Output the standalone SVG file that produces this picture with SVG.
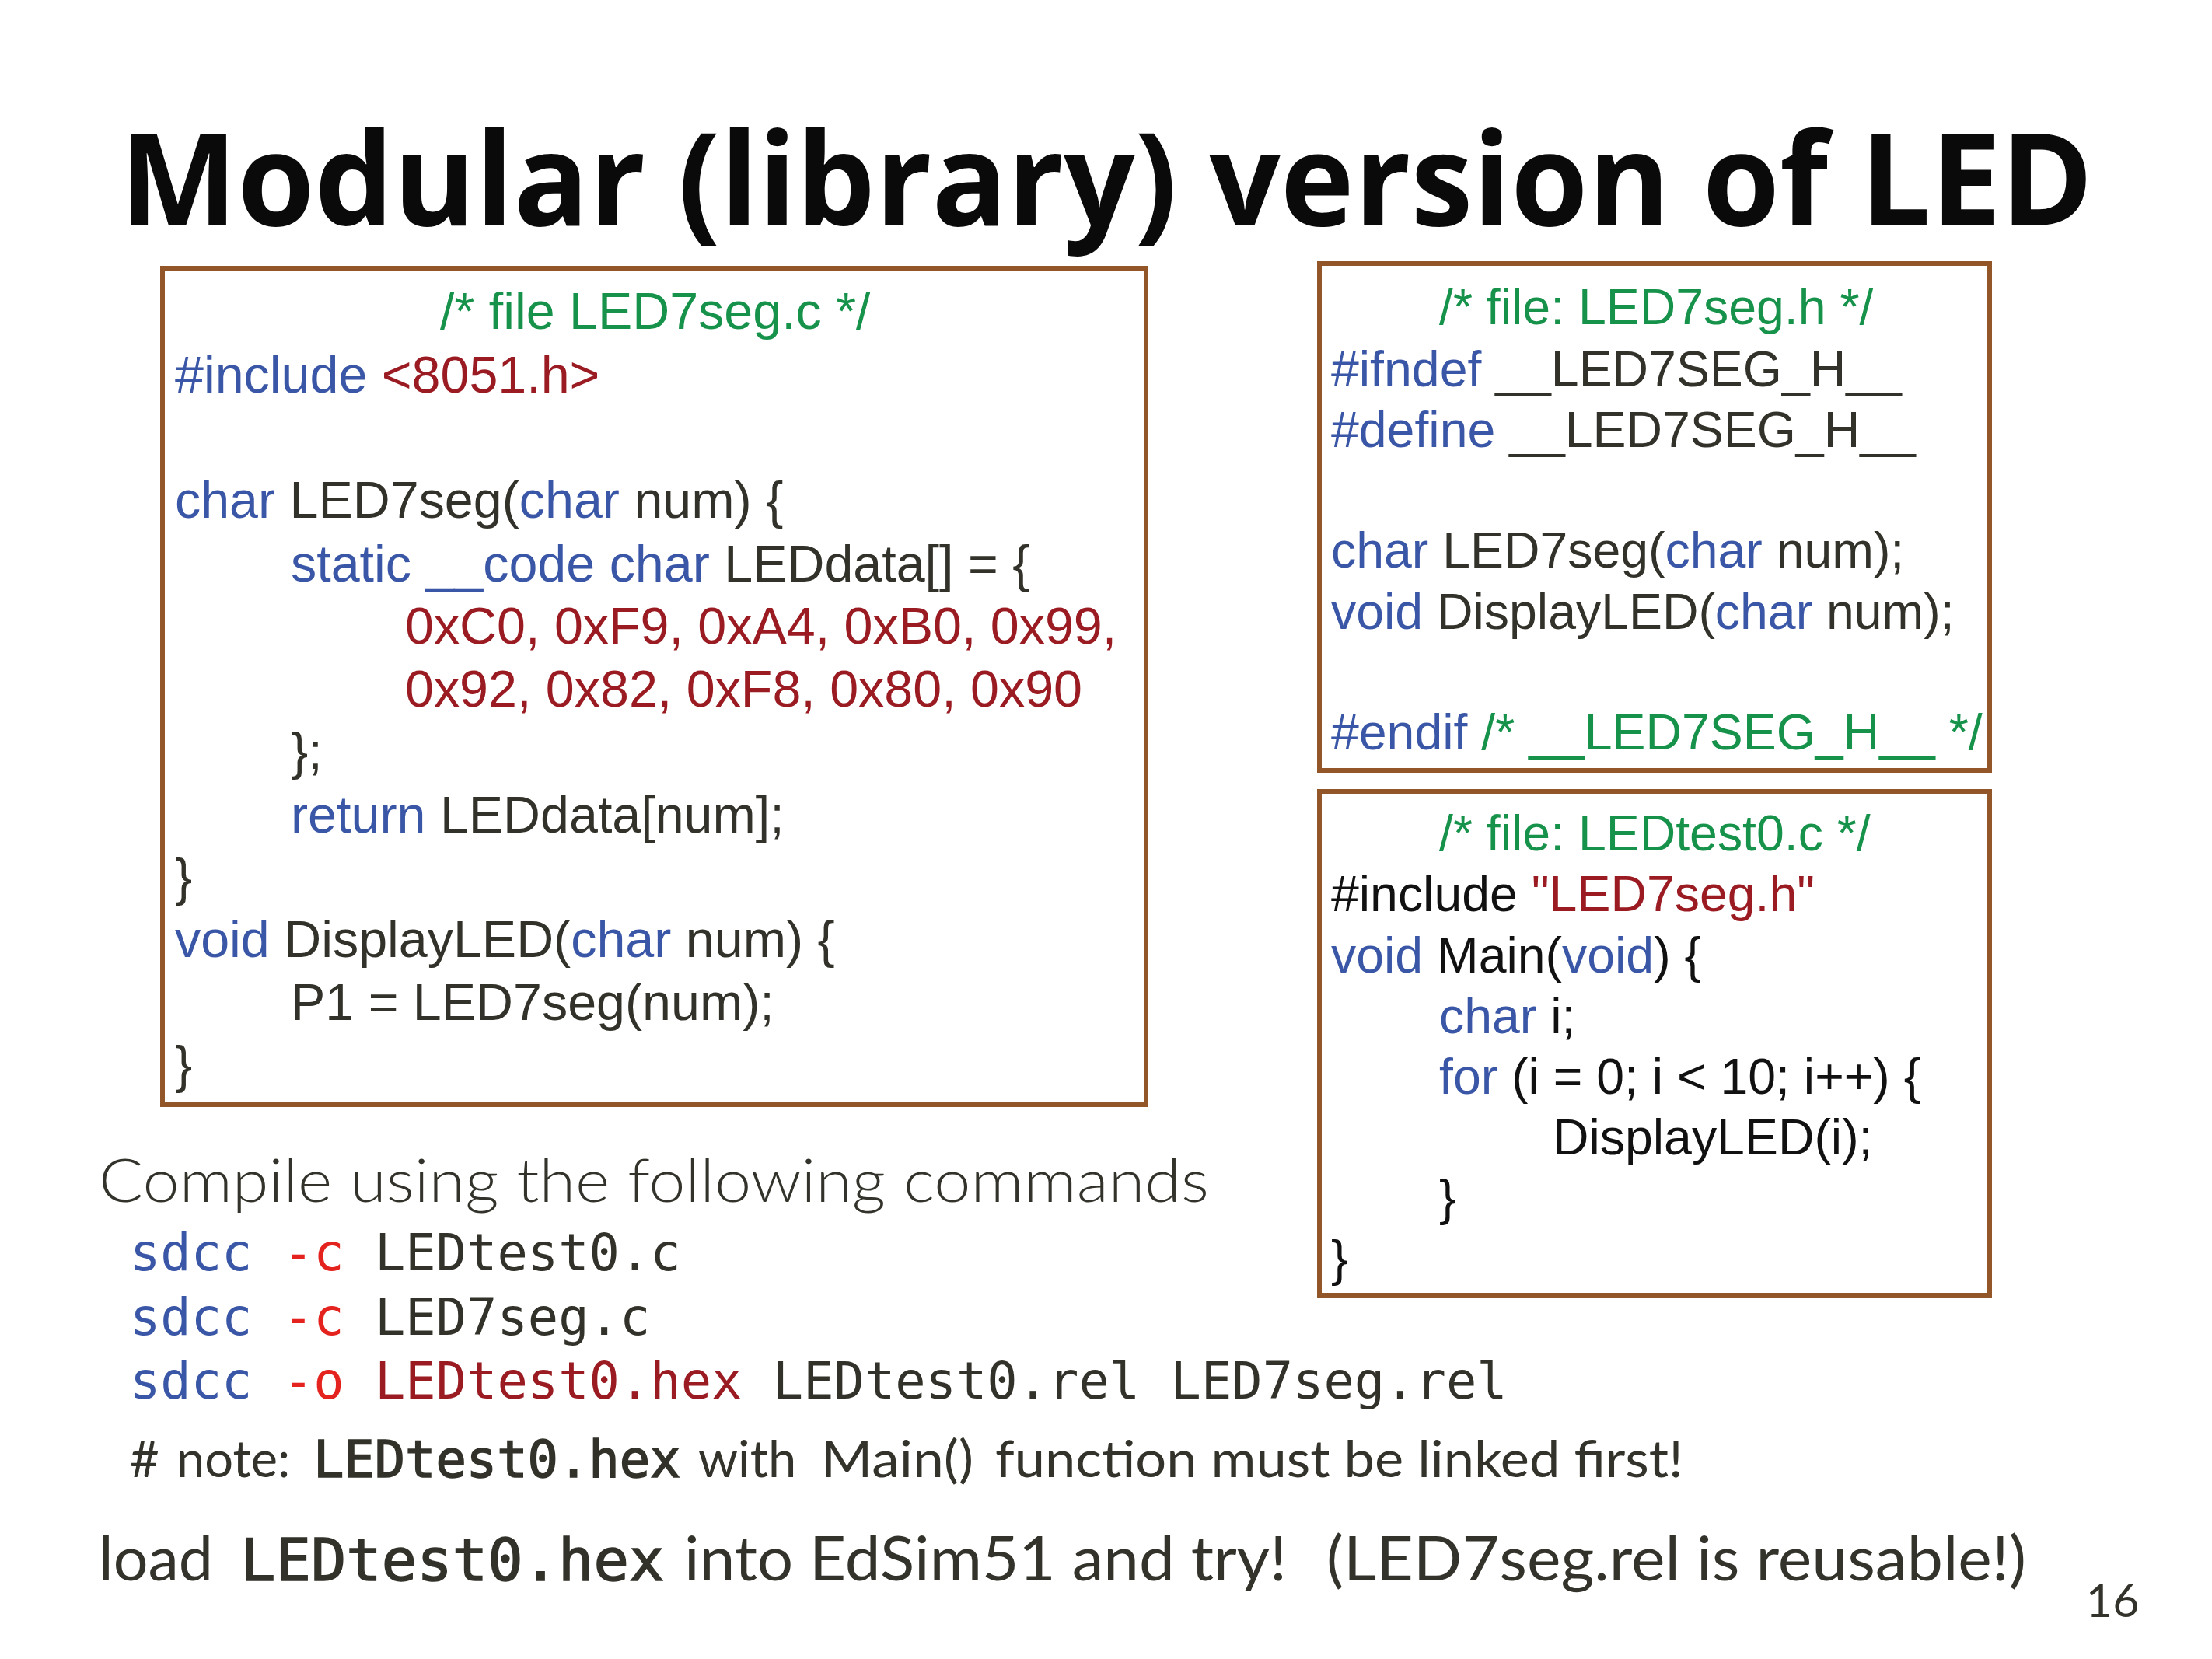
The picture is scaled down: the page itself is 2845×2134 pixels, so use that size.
<svg xmlns="http://www.w3.org/2000/svg" width="2845" height="2134" viewBox="0 0 2845 2134">
<style>
.box{fill:#ffffff;stroke:#935628;stroke-width:6}
.code{font-family:"Liberation Sans",Arial,sans-serif;font-size:66.4px;fill:#33322a}
.code2{font-family:"Liberation Sans",Arial,sans-serif;font-size:64.4px;fill:#33322a}
.blk{fill:#111111}
.kw{fill:#3a56a6}
.str{fill:#9a1b22}
.cm{fill:#16924b}
.mono{font-family:"DejaVu Sans Mono","Liberation Mono",monospace;fill:#33322a}
.semi{stroke:#33322a;stroke-width:1.6}
.flag{fill:#e4231f}
.hum{font-family:Lato,"Open Sans",sans-serif;fill:#33332b}
.title{font-family:"Open Sans","Liberation Sans",sans-serif;font-weight:700;font-size:165px;fill:#0a0a0a}
</style>
<rect width="2845" height="2134" fill="#ffffff"/>
<g id="title">
<text class="title" x="154" y="290" textLength="2538" lengthAdjust="spacingAndGlyphs">Modular (library) version of LED</text>
</g>
<g id="box-led7seg-c">
<rect class="box" x="209" y="345" width="1265" height="1076"/>
<text class="code cm" x="566" y="423">/* file LED7seg.c */</text>
<text class="code" x="225" y="505"><tspan class="kw">#include</tspan> <tspan class="str">&lt;8051.h&gt;</tspan></text>
<text class="code" x="225" y="666"><tspan class="kw">char</tspan> LED7seg(<tspan class="kw">char</tspan> num) {</text>
<text class="code" x="374" y="748"><tspan class="kw">static __code char</tspan> LEDdata[] = {</text>
<text class="code str" x="521" y="828">0xC0, 0xF9, 0xA4, 0xB0, 0x99,</text>
<text class="code str" x="521" y="909">0x92, 0x82, 0xF8, 0x80, 0x90</text>
<text class="code" x="374" y="989">};</text>
<text class="code" x="374" y="1071"><tspan class="kw">return</tspan> LEDdata[num];</text>
<text class="code" x="225" y="1151">}</text>
<text class="code" x="225" y="1231"><tspan class="kw">void</tspan> DisplayLED(<tspan class="kw">char</tspan> num) {</text>
<text class="code" x="374" y="1312">P1 = LED7seg(num);</text>
<text class="code" x="225" y="1392">}</text>
</g>
<g id="box-led7seg-h">
<rect class="box" x="1697" y="339" width="862" height="652"/>
<text class="code2 cm" x="1851" y="417">/* file: LED7seg.h */</text>
<text class="code2" x="1712" y="497"><tspan class="kw">#ifndef</tspan> __LED7SEG_H__</text>
<text class="code2" x="1712" y="575"><tspan class="kw">#define</tspan> __LED7SEG_H__</text>
<text class="code2" x="1712" y="730"><tspan class="kw">char</tspan> LED7seg(<tspan class="kw">char</tspan> num);</text>
<text class="code2" x="1712" y="809"><tspan class="kw">void</tspan> DisplayLED(<tspan class="kw">char</tspan> num);</text>
<text class="code2 cm" x="1712" y="964"><tspan class="kw">#endif</tspan> /* __LED7SEG_H__ */</text>
</g>
<g id="box-ledtest0-c">
<rect class="box" x="1697" y="1018" width="862" height="648"/>
<text class="code2 cm" x="1851" y="1094">/* file: LEDtest0.c */</text>
<text class="code2 blk" x="1712" y="1172">#include <tspan class="str">"LED7seg.h"</tspan></text>
<text class="code2 blk" x="1712" y="1251"><tspan class="kw">void</tspan> Main(<tspan class="kw">void</tspan>) {</text>
<text class="code2 blk" x="1851" y="1329"><tspan class="kw">char</tspan> i;</text>
<text class="code2 blk" x="1851" y="1407"><tspan class="kw">for</tspan> (i = 0; i &lt; 10; i++) {</text>
<text class="code2 blk" x="1997" y="1485">DisplayLED(i);</text>
<text class="code2 blk" x="1851" y="1563">}</text>
<text class="code2 blk" x="1712" y="1641">}</text>
</g>
<g id="compile-notes">
<text class="hum" x="127" y="1546" style="font-size:77px;font-weight:300" textLength="1428" lengthAdjust="spacingAndGlyphs">Compile using the following commands</text>
<text class="mono" x="167" y="1634" style="font-size:65.4px"><tspan class="kw">sdcc</tspan> <tspan class="flag">-c</tspan> LEDtest0.c</text>
<text class="mono" x="167" y="1717" style="font-size:65.4px"><tspan class="kw">sdcc</tspan> <tspan class="flag">-c</tspan> LED7seg.c</text>
<text class="mono" x="167" y="1799" style="font-size:65.4px"><tspan class="kw">sdcc</tspan> <tspan class="flag">-o</tspan> <tspan class="str">LEDtest0.hex</tspan> LEDtest0.rel LED7seg.rel</text>
<text class="hum" x="167" y="1900" style="font-size:65px">#</text>
<text class="hum" x="227" y="1900" style="font-size:65px">note:</text>
<text class="mono semi" x="403" y="1900" style="font-size:65.4px">LEDtest0.hex</text>
<text class="hum" x="898" y="1900" style="font-size:65px">with</text>
<text class="hum" x="1056" y="1900" style="font-size:65px" textLength="196" lengthAdjust="spacingAndGlyphs">Main()</text>
<text class="hum" x="1280" y="1900" style="font-size:65px" textLength="885" lengthAdjust="spacingAndGlyphs">function must be linked first!</text>
<text class="hum" x="127" y="2033" style="font-size:79px">load</text>
<text class="mono semi" x="309" y="2033" style="font-size:75.5px">LEDtest0.hex</text>
<text class="hum" x="880" y="2033" style="font-size:79px" textLength="775" lengthAdjust="spacingAndGlyphs">into EdSim51 and try!</text>
<text class="hum" x="1706" y="2033" style="font-size:79px" textLength="900" lengthAdjust="spacingAndGlyphs">(LED7seg.rel is reusable!)</text>
<text class="hum" x="2683" y="2080" style="font-size:59px">16</text>
</g>
</svg>
